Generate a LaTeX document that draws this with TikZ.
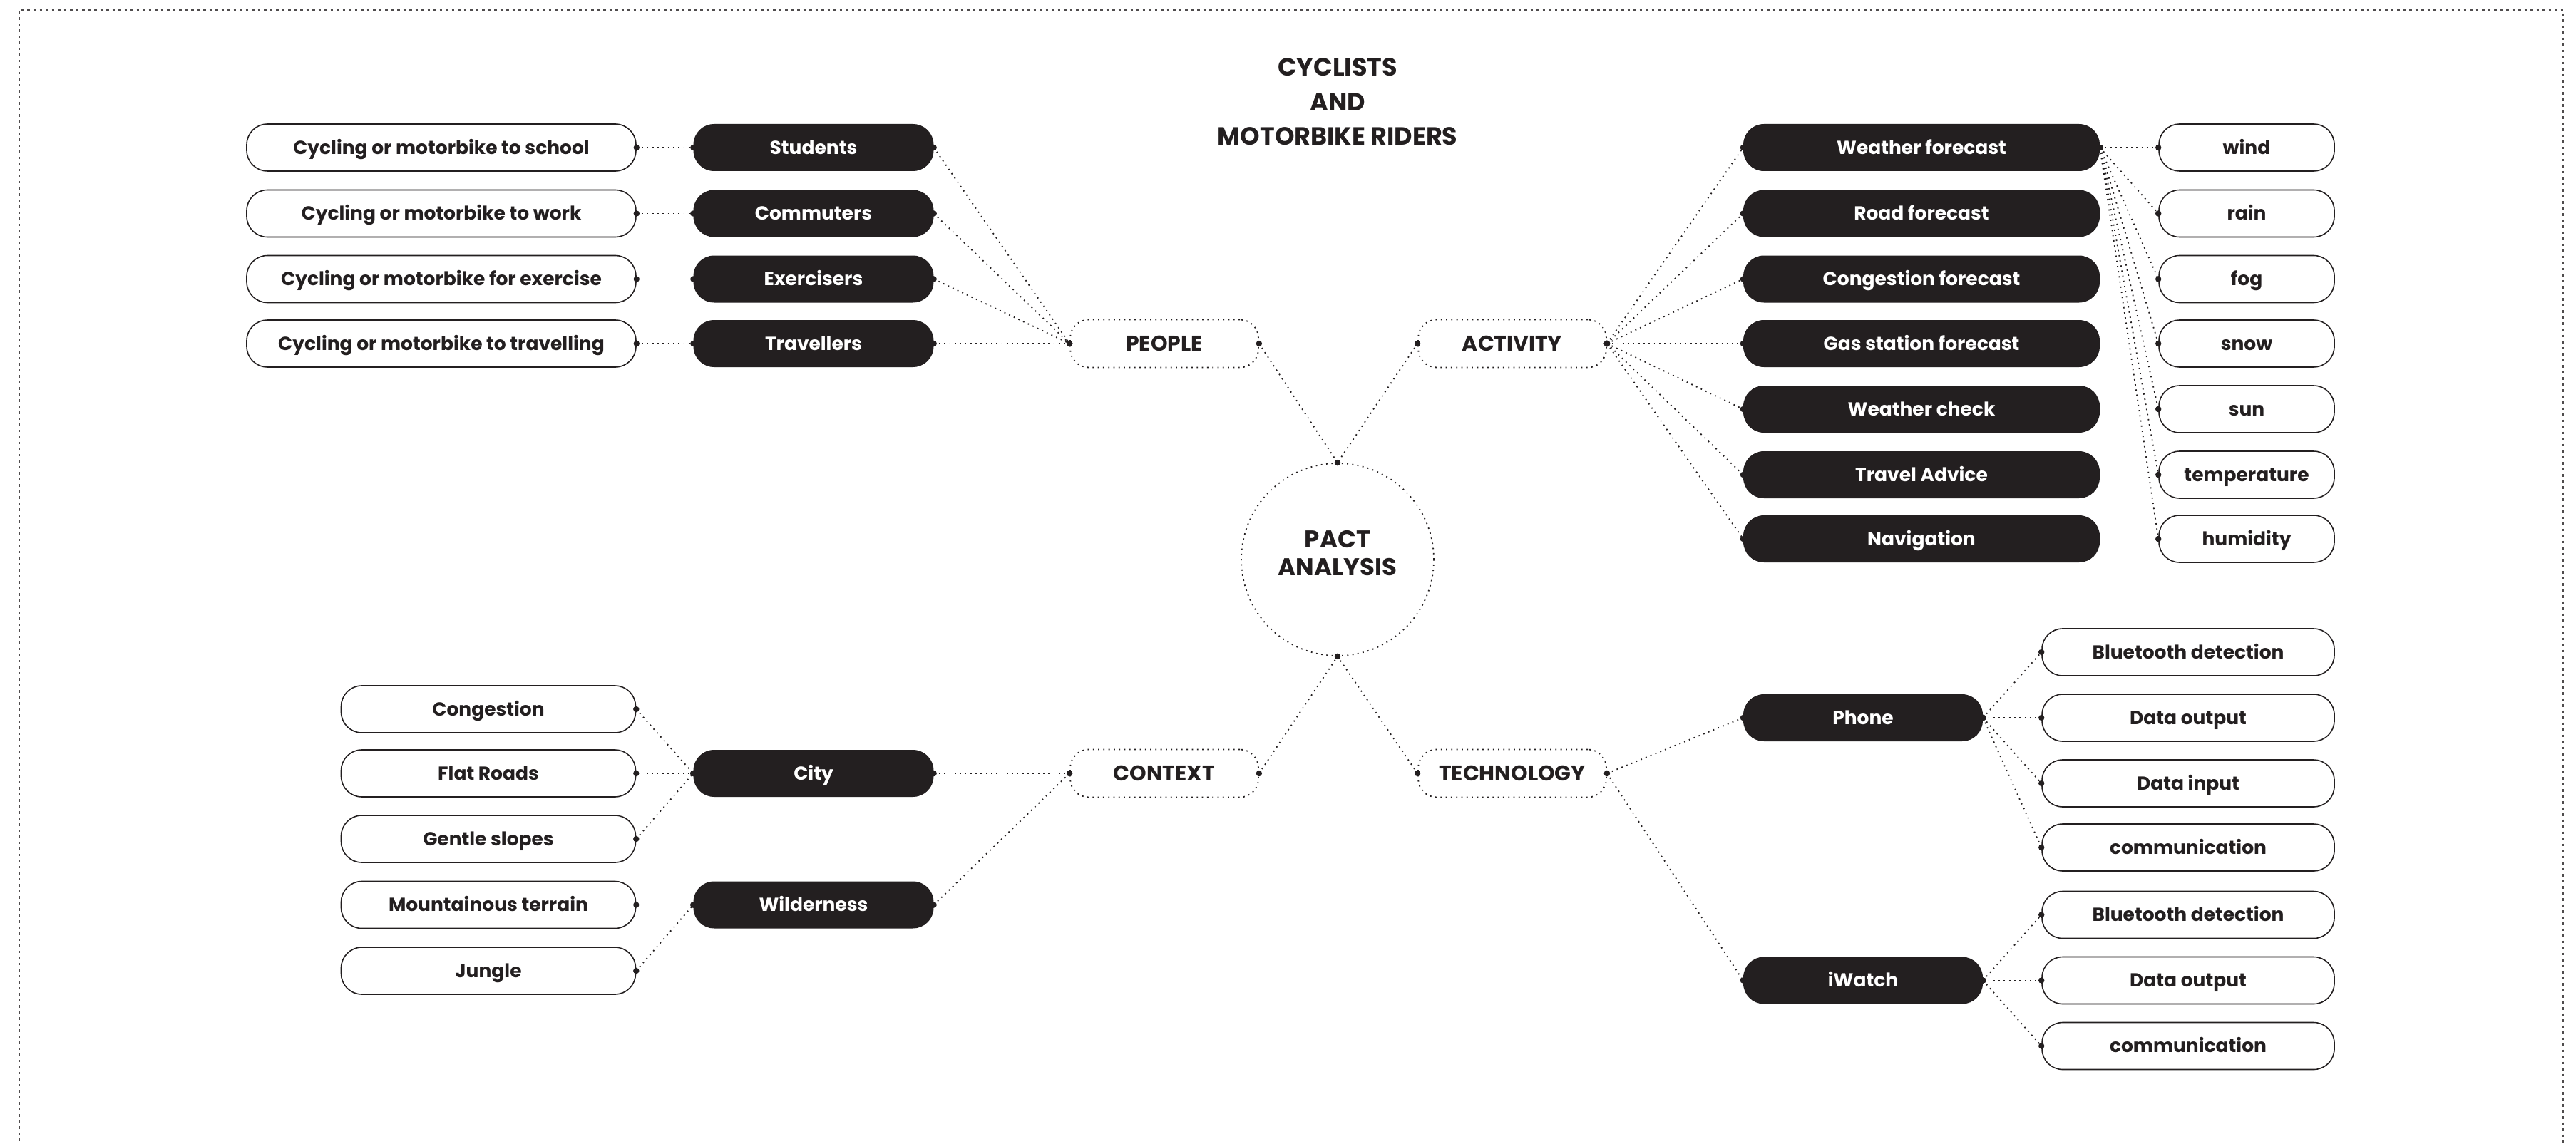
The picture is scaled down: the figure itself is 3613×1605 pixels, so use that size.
\documentclass[tikz,border=0pt]{standalone}
\usepackage{fontspec}
\setmainfont{Poppins}
\definecolor{ink}{HTML}{231F20}
\begin{document}
\begin{tikzpicture}[x=1pt,y=-1pt,
  lbl/.style={font=\fontsize{26.5}{30}\selectfont\bfseries, text height=18.5pt, text depth=0pt, inner sep=0pt, minimum height=66pt, rounded corners=29pt},
  blk/.style={lbl, fill=ink, text=white},
  wht/.style={lbl, draw=ink, line width=1.6pt, fill=white, text=ink},
  dotline/.style={draw=ink, line width=1.8pt, dash pattern=on 1.8pt off 5.5pt},
  hub/.style={dotline, font=\fontsize{30}{34}\selectfont\bfseries, text=ink, text height=21pt, text depth=0pt, inner sep=0pt, minimum width=264pt, minimum height=67pt, rounded corners=26pt},
  frameline/.style={draw=ink!80, line width=2.2pt, dash pattern=on 3.5pt off 5pt},
]
\useasboundingbox (0,0) rectangle (3613,1605);
\draw[frameline] (27,1660) -- (27,14) -- (3595,14) -- (3595,1660);

\newcommand\lnk[2]{\draw[dotline] (#1) -- (#2); \fill[ink] (#1) circle (4.2); \fill[ink] (#2) circle (4.2);}

% title
\node[align=center, font=\fontsize{35}{48.5}\selectfont\bfseries, text=ink, inner sep=0pt] (title) at (1876,143) {CYCLISTS\\AND\\MOTORBIKE RIDERS};

% centre
\node[circle, dotline, minimum size=270pt, inner sep=0pt] (pact) at (1876,785) {};
\node[align=center, font=\fontsize{34}{39}\selectfont\bfseries, text=ink, inner sep=0pt] (pacttext) at (1876,776) {PACT\\ANALYSIS};

% hubs
\node[hub] (people) at (1633,482) {PEOPLE};
\node[hub] (activity) at (2121,482) {ACTIVITY};
\node[hub] (context) at (1633,1085) {CONTEXT};
\node[hub] (tech) at (2121,1085) {TECHNOLOGY};

% people
\foreach \n/\y/\b/\w in {1/207/Students/Cycling or motorbike to school,
                          2/299.5/Commuters/Cycling or motorbike to work,
                          3/391.5/Exercisers/Cycling or motorbike for exercise,
                          4/482/Travellers/Cycling or motorbike to travelling}{
  \node[blk, minimum width=337pt] (bP\n) at (1141,\y) {\b};
  \node[wht, minimum width=546pt] (wP\n) at (619,\y) {\w};
}

% activity
\foreach \n/\y/\b/\w in {1/207/Weather forecast/wind,
                          2/299.5/Road forecast/rain,
                          3/391.5/Congestion forecast/fog,
                          4/482/Gas station forecast/snow,
                          5/574/Weather check/sun,
                          6/666/Travel Advice/temperature,
                          7/756/Navigation/humidity}{
  \node[blk, minimum width=500pt] (bA\n) at (2695,\y) {\b};
  \node[wht, minimum width=246pt] (wA\n) at (3151,\y) {\w};
}

% context
\node[blk, minimum width=337pt] (city) at (1141,1085) {City};
\node[blk, minimum width=337pt] (wild) at (1141,1269.5) {Wilderness};
\foreach \n/\y/\w in {1/995/Congestion, 2/1085/Flat Roads, 3/1177/Gentle slopes, 4/1269.5/Mountainous terrain, 5/1362/Jungle}{
  \node[wht, minimum width=413pt] (wC\n) at (685,\y) {\w};
}

% technology
\node[blk, minimum width=336pt] (phone) at (2613,1007) {Phone};
\node[blk, minimum width=336pt] (iwatch) at (2613,1375.5) {iWatch};
\foreach \n/\y/\w in {1/915/Bluetooth detection, 2/1007/Data output, 3/1099/Data input, 4/1189/communication,
                      5/1283.5/Bluetooth detection, 6/1375.5/Data output, 7/1467.5/communication}{
  \node[wht, minimum width=410pt] (wT\n) at (3069,\y) {\w};
}

% connectors
\lnk{people.east}{pact.north}
\lnk{activity.west}{pact.north}
\lnk{context.east}{pact.south}
\lnk{tech.west}{pact.south}
\foreach \n in {1,...,4}{
  \lnk{wP\n.east}{bP\n.west}
  \lnk{bP\n.east}{people.west}
}
\foreach \n in {1,...,7}{
  \lnk{activity.east}{bA\n.west}
  \lnk{bA1.east}{wA\n.west}
}
\lnk{city.east}{context.west}
\lnk{wild.east}{context.west}
\foreach \n in {1,2,3}{\lnk{wC\n.east}{city.west}}
\foreach \n in {4,5}{\lnk{wC\n.east}{wild.west}}
\lnk{tech.east}{phone.west}
\lnk{tech.east}{iwatch.west}
\foreach \n in {1,...,4}{\lnk{phone.east}{wT\n.west}}
\foreach \n in {5,6,7}{\lnk{iwatch.east}{wT\n.west}}
\end{tikzpicture}
\end{document}
